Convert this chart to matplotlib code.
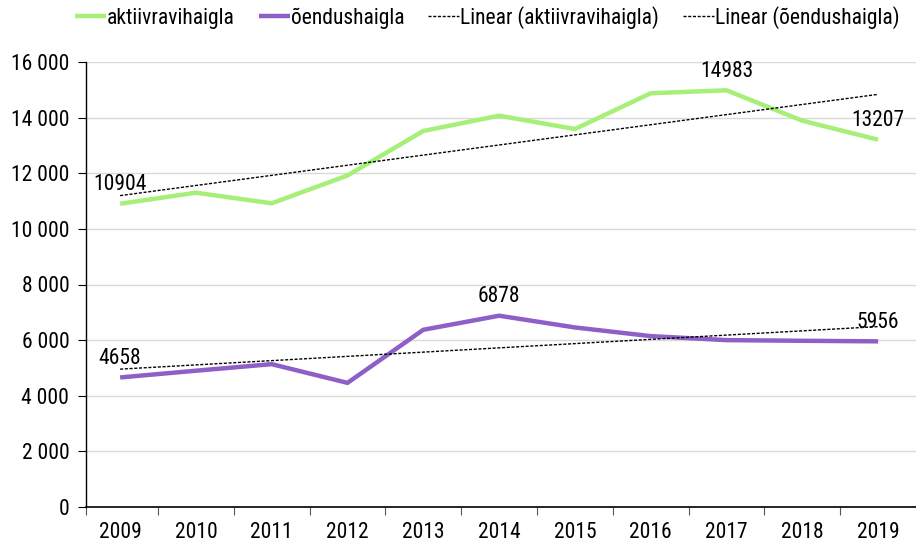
import matplotlib
matplotlib.use("Agg")
import matplotlib.pyplot as plt
import numpy as np
from matplotlib.ticker import FuncFormatter, FixedLocator
from matplotlib import font_manager as fm

names = {f.name for f in fm.fontManager.ttflist}
narrow = None
for cand in ['Liberation Sans Narrow', 'DejaVu Sans Condensed', 'Roboto Condensed', 'Open Sans Condensed']:
    if cand in names:
        narrow = cand
        break
if narrow:
    plt.rcParams['font.family'] = [narrow, 'DejaVu Sans']
else:
    plt.rcParams['font.family'] = ['DejaVu Sans']
    plt.rcParams['font.stretch'] = 'condensed'

years = ["2009", "2010", "2011", "2012", "2013", "2014", "2015", "2016", "2017", "2018", "2019"]
aktiivravihaigla = [10904, 11300, 10920, 11920, 13520, 14070, 13590, 14876, 14983, 13890, 13207]
oendushaigla = [4658, 4900, 5136, 4463, 6372, 6878, 6456, 6144, 6000, 5976, 5956]
labels_akt = {0: "10904", 8: "14983", 10: "13207"}
labels_oen = {0: "4658", 5: "6878", 10: "5956"}

green = '#a6ef78'
purple = '#8f5fc8'
fs = 15.5

fig = plt.figure(figsize=(9.16, 5.44), dpi=100)
ax = fig.add_axes([86/916, 1-507/544, (916-86)/916, (507-62)/544])

x = np.arange(len(years))
ax.plot(x, aktiivravihaigla, color=green, lw=3.2, label='aktiivravihaigla', solid_capstyle='butt')
ax.plot(x, oendushaigla, color=purple, lw=3.2, label='õendushaigla', solid_capstyle='butt')

c1 = np.polyfit(x, aktiivravihaigla, 1)
c2 = np.polyfit(x, oendushaigla, 1)
ax.plot(x, np.polyval(c1, x), color='black', lw=1.0, ls=(0, (2.2, 1.2)), label='Linear (aktiivravihaigla)')
ax.plot(x, np.polyval(c2, x), color='black', lw=1.0, ls=(0, (2.2, 1.2)), label='Linear (õendushaigla)')

for i, t in labels_akt.items():
    ax.annotate(t, (x[i], aktiivravihaigla[i]), xytext=(0, 6), textcoords='offset points',
                ha='center', va='bottom', fontsize=fs)
for i, t in labels_oen.items():
    ax.annotate(t, (x[i], oendushaigla[i]), xytext=(0, 6), textcoords='offset points',
                ha='center', va='bottom', fontsize=fs)

ax.set_xlim(-0.45, 10.5)
ax.set_ylim(0, 16000)
ax.set_yticks(np.arange(0, 16001, 2000))
ax.yaxis.set_major_formatter(FuncFormatter(lambda v, p: f"{int(v):,}".replace(",", " ")))
ax.set_xticks(x)
ax.set_xticklabels(years)
ax.xaxis.set_minor_locator(FixedLocator(list(np.arange(0.5, 10.5, 1.0)) + [-0.45]))
ax.tick_params(axis='x', which='major', length=0, pad=11, labelsize=fs)
ax.tick_params(axis='x', which='minor', length=6, width=0.8, color='#555555')
ax.tick_params(axis='y', length=6, width=0.8, labelsize=fs, pad=6)

ax.grid(axis='y', color='#d9d9d9', lw=1.0)
ax.set_axisbelow(True)
for s in ['top', 'right']:
    ax.spines[s].set_visible(False)
ax.spines['left'].set_color('black')
ax.spines['bottom'].set_color('black')
ax.spines['left'].set_linewidth(1.0)
ax.spines['bottom'].set_linewidth(1.2)

fig.legend(loc='upper center', bbox_to_anchor=(0.532, 1.025), ncol=4, frameon=False,
           fontsize=fs, handlelength=1.45, handletextpad=0.05, columnspacing=1.1)

fig.savefig('out.png', dpi=100)
